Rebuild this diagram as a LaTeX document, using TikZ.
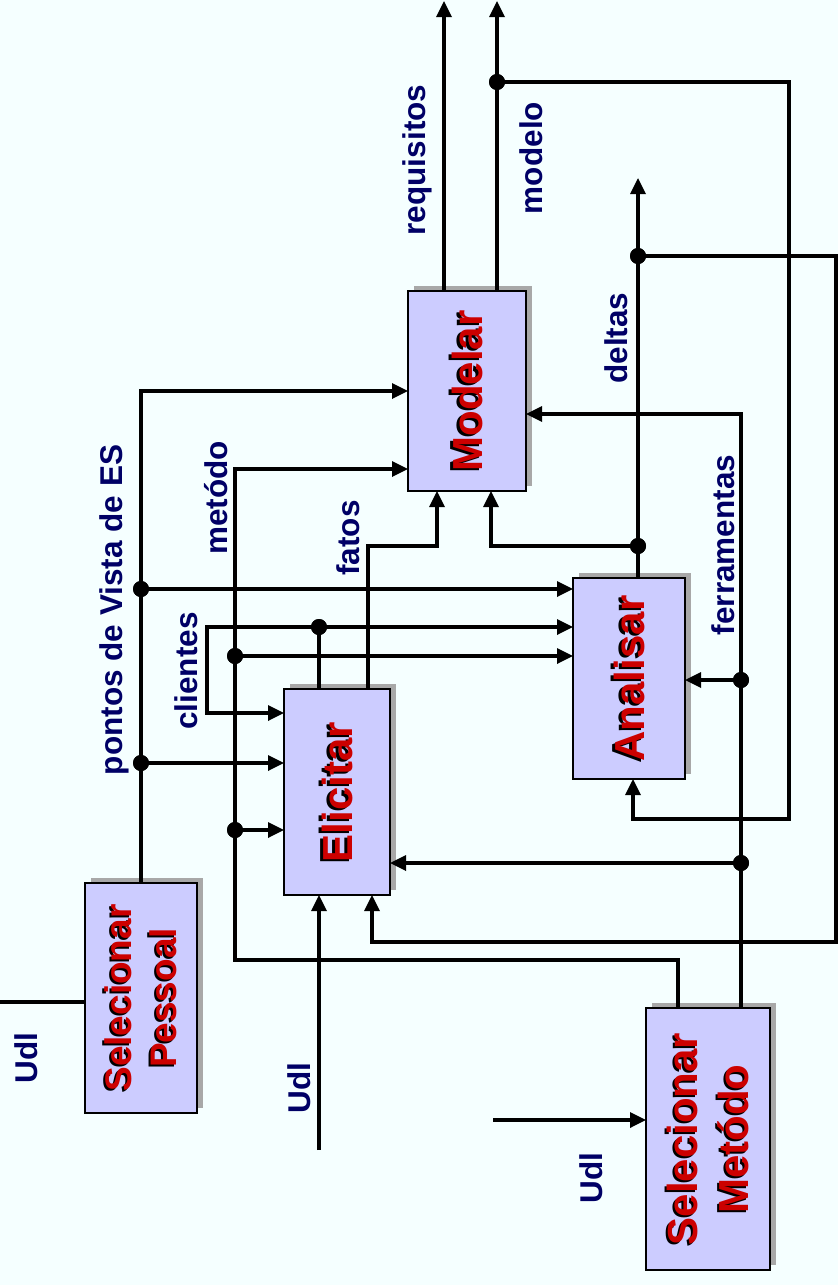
\documentclass[tikz,border=0pt]{standalone}
\usepackage{fontspec}
\setmainfont{Liberation Sans}
\usetikzlibrary{arrows.meta,shadows}
\definecolor{bgc}{HTML}{F5FFFF}
\definecolor{boxfill}{HTML}{CCCCFF}
\definecolor{boxred}{HTML}{CC0000}
\definecolor{lblc}{HTML}{000066}
\definecolor{shgray}{HTML}{A8A8A8}
\begin{document}
\begin{tikzpicture}[x=1pt,y=-1pt,
  box/.style={draw=black, line width=2.5pt, fill=boxfill, inner sep=0pt, outer sep=0pt,
    drop shadow={shadow xshift=5.5pt, shadow yshift=5.5pt, fill=shgray, opacity=1}},
  btxt/.style={rotate=90, font=\bfseries\fontsize{42}{51}\selectfont, text=boxred, align=center, inner sep=0pt},
  bsh/.style={btxt, text=black},
  ptxt/.style={btxt, font=\bfseries\fontsize{37}{45}\selectfont},
  psh/.style={ptxt, text=black},
  lbl/.style={rotate=90, anchor=base, font=\bfseries\fontsize{31.5}{36}\selectfont, text=lblc, inner sep=0pt},
  ln/.style={line width=3.3pt, draw=black},
  arr/.style={ln, -{Triangle[length=16pt,width=15pt]}},
  dot/.style={circle, fill=black, minimum size=16pt, inner sep=0pt}]
\fill[bgc] (0,0) rectangle (838,1285);
\useasboundingbox (0,0) rectangle (838,1285);

% boxes
\node[box, minimum width=118pt, minimum height=200pt] (mod) at (467,391) {};
\node[box, minimum width=112pt, minimum height=201pt] (ana) at (629,678.5) {};
\node[box, minimum width=106pt, minimum height=206pt] (eli) at (337,792) {};
\node[box, minimum width=112pt, minimum height=230pt] (selp) at (141,998) {};
\node[box, minimum width=124pt, minimum height=262pt] (selm) at (708,1139) {};

% box texts (shadow + red)
\node[bsh] (modS) at ([shift={(-2.5,2)}]mod.center) {Modelar};
\node[btxt] (modT) at (mod.center) {Modelar};
\node[bsh] (anaS) at ([shift={(-2.5,2)}]ana.center) {Analisar};
\node[btxt] (anaT) at (ana.center) {Analisar};
\node[bsh] (eliS) at ([shift={(-2.5,2)}]eli.center) {Elicitar};
\node[btxt] (eliT) at (eli.center) {Elicitar};
\node[psh] (selpS) at ([shift={(-2.5,2)}]selp.center) {Selecionar\\Pessoal};
\node[ptxt] (selpT) at (selp.center) {Selecionar\\Pessoal};
\node[bsh] (selmS) at ([shift={(-2.5,2)}]selm.center) {Selecionar\\Metódo};
\node[btxt] (selmT) at (selm.center) {Selecionar\\Metódo};

% free ends
\coordinate (reqTop) at (444,1);
\coordinate (modTop) at (497,1);
\coordinate (delTop) at (638,178);
\coordinate (udlL) at (0,1002);
\coordinate (udlM) at (319,1150);
\coordinate (udlR) at (493,1120);

% junction dots
\node[dot] (dmod) at (497,82) {};
\node[dot] (ddel1) at (638,256) {};
\node[dot] (ddel2) at (638,546) {};
\node[dot] (dfer1) at (741,680) {};
\node[dot] (dfer2) at (741,863) {};
\node[dot] (dmet1) at (235,656) {};
\node[dot] (dmet2) at (235,830) {};
\node[dot] (dpon1) at (141,589) {};
\node[dot] (dpon2) at (141,763) {};
\node[dot] (dcli) at (319,627) {};

% outputs of Modelar
\draw[arr] (mod.north -| reqTop) -- (reqTop);
\draw[arr] (mod.north -| modTop) -- (modTop);
\draw[arr] (dmod.center) -- (789,82) -- (789,819) -- (633,819) -- (633,0 |- ana.south);
% deltas
\draw[arr] (ana.north -| delTop) -- (delTop);
\draw[arr] (ddel2.center) -- (491,546) -- (491,0 |- mod.south);
\draw[arr] (ddel1.center) -- (836,256) -- (836,942) -- (372,942) -- (372,0 |- eli.south);
% fatos
\draw[arr] (eli.north -| 368,0) -- (368,546) -- (437,546) -- (437,0 |- mod.south);
% ferramentas
\draw[arr] (selm.north -| 741,0) -- (741,414) -- (mod.east |- 0,414);
\draw[arr] (dfer1.center) -- (ana.east |- dfer1);
\draw[arr] (dfer2.center) -- (eli.east |- dfer2);
% metodo
\draw[arr] (selm.north -| 678,0) -- (678,960) -- (235,960) -- (235,469) -- (mod.west |- 0,469);
\draw[arr] (dmet1.center) -- (ana.west |- dmet1);
\draw[arr] (dmet2.center) -- (eli.west |- dmet2);
% pontos de vista
\draw[arr] (selp.north -| 141,0) -- (141,391) -- (mod.west |- 0,391);
\draw[arr] (dpon1.center) -- (ana.west |- dpon1);
\draw[arr] (dpon2.center) -- (eli.west |- dpon2);
% clientes
\draw[ln] (eli.north -| dcli) -- (dcli.center);
\draw[arr] (dcli.center) -- (ana.west |- dcli);
\draw[arr] (dcli.center) -- (207,627) -- (207,713) -- (eli.west |- 0,713);
% Udl inputs
\draw[ln] (udlL) -- (selp.west |- udlL);
\draw[arr] (udlM) -- (eli.south -| udlM);
\draw[arr] (udlR) -- (selm.west |- udlR);

% redraw dots on top
\foreach \d in {dmod,ddel1,ddel2,dfer1,dfer2,dmet1,dmet2,dpon1,dpon2,dcli}
  \fill (\d) circle (8pt);

% labels
\node[lbl] (lreq) at (425,160) {requisitos};
\node[lbl] (lmod) at (542,158) {modelo};
\node[lbl] (ldel) at (627,338) {deltas};
\node[lbl] (lfer) at (734,545) {ferramentas};
\node[lbl] (lfat) at (359,538) {fatos};
\node[lbl] (lmet) at (227,498) {metódo};
\node[lbl] (lpon) at (122,610) {pontos de Vista de ES};
\node[lbl] (lcli) at (197,671) {clientes};
\node[lbl] (ludl1) at (37,1058) {Udl};
\node[lbl] (ludl2) at (310,1088) {Udl};
\node[lbl] (ludl3) at (602,1178) {Udl};
\end{tikzpicture}
\end{document}
